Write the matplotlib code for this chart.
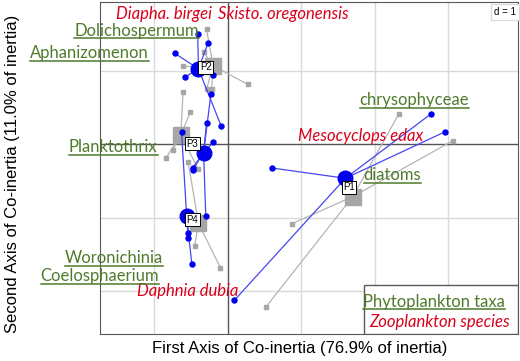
import matplotlib
matplotlib.use("Agg")
import matplotlib.pyplot as plt
from matplotlib.lines import Line2D
from matplotlib.patches import Rectangle

# Groupes (lacs / périodes)
groups = ["P1", "P2", "P3", "P4"]

# Centres de classe - tableau phyto (bleu) et zoo (gris)
blue_cx = [1.60, -0.40, -0.33, -0.56]
blue_cy = [-0.46, 1.03, -0.11, -0.98]
gray_cx = [1.70, -0.20, -0.64, -0.40]
gray_cy = [-0.71, 1.07, 0.13, -1.07]

# Points échantillons (bleu)
blue_x = [
    [0.60, 2.77, 2.95, 0.09],
    [-0.41, -0.27, -0.72, -0.58, -0.20, -0.09],
    [-0.23, -0.29, -0.20, -0.48, -0.48, -0.30],
    [-0.63, -0.49, -0.54, -0.54],
]
blue_y = [
    [-0.32, 0.42, 0.17, -2.12],
    [1.51, 1.38, 1.24, 0.92, 0.95, 0.25],
    [0.69, 0.29, 0.03, -0.32, -0.35, -0.97],
    [0.17, -1.63, -1.20, -1.27],
]

# Points échantillons (gris)
gray_x = [
    [2.33, 3.06, 0.87, 0.52],
    [-0.29, -0.33, -0.61, 0.27, -0.29, -0.22],
    [-0.61, -0.51, -0.75, -0.84, -0.40],
    [-0.54, -0.45, -0.10],
]
gray_y = [
    [0.42, 0.05, -1.08, -2.21],
    [1.57, 1.26, 1.07, 0.82, 0.75, 0.75],
    [0.71, 0.44, -0.08, -0.18, -0.34],
    [-0.24, -1.38, -1.68],
]

# Etiquettes des espèces
phyto_names = ["Dolichospermum", "Aphanizomenon", "Planktothrix", "Woronichinia",
               "Coelosphaerium", "chrysophyceae", "diatoms"]
phyto_x = [-1.24, -1.88, -1.56, -1.55, -1.74, 2.54, 2.24]
phyto_y = [1.55, 1.24, -0.04, -1.55, -1.79, 0.60, -0.42]

zoo_names = ["Diapha. birgei", "Skisto. oregonensis", "Mesocyclops edax", "Daphnia dubia"]
zoo_x = [-0.87, 0.75, 1.81, -0.54]
zoo_y = [1.77, 1.77, 0.11, -2.00]

GREEN = "#4f7b2c"
RED = "#d9001b"
BLUE = "#0000ee"
LBLUE = "#4646f0"
GRAY = "#a6a6a6"

fig = plt.figure(figsize=(5.2, 3.61), dpi=100)
ax = fig.add_axes([100 / 520, 27 / 361, 418 / 520, 332 / 361])
ax.set_xlim(-1.74, 3.95)
ax.set_ylim(-2.58, 1.94)
ax.set_xticks([-1, 1, 2, 3])
ax.set_yticks([-2, -1, 1])
ax.grid(True, color="#d9d9d9", lw=1)
ax.tick_params(length=0, labelbottom=False, labelleft=False)
ax.axhline(0, color="#555555", lw=1)
ax.axvline(0, color="#555555", lw=1)
for s in ax.spines.values():
    s.set_color("#595959")
ax.set_axisbelow(True)

# gris (zoo)
for i in range(len(groups)):
    for x, y in zip(gray_x[i], gray_y[i]):
        ax.plot([gray_cx[i], x], [gray_cy[i], y], color="#b5b5b5", lw=0.9, zorder=2)
    ax.plot(gray_x[i], gray_y[i], "s", color=GRAY, ms=3, zorder=3)
    ax.plot(gray_cx[i], gray_cy[i], "s", color=GRAY, ms=11, zorder=3)

# bleu (phyto)
for i in range(len(groups)):
    for x, y in zip(blue_x[i], blue_y[i]):
        ax.plot([blue_cx[i], x], [blue_cy[i], y], color=LBLUE, lw=0.9, zorder=4)
    ax.plot(blue_x[i], blue_y[i], "o", color=BLUE, ms=3.6, zorder=5)
    ax.plot(blue_cx[i], blue_cy[i], "o", color=BLUE, ms=10.5, zorder=5)

# étiquettes P1..P4
for i, g in enumerate(groups):
    lx = (blue_cx[i] + gray_cx[i]) / 2
    ly = (blue_cy[i] + gray_cy[i]) / 2
    ax.text(lx, ly, g, fontsize=7, family="Liberation Sans", ha="center", va="center",
            zorder=6, bbox=dict(boxstyle="square,pad=0.15", fc="white", ec="black", lw=0.7))

phyto_texts = []
for name, x, y in zip(phyto_names, phyto_x, phyto_y):
    t = ax.text(x, y, name, color=GREEN, fontsize=12, family="Lato",
                ha="center", va="center", clip_on=False, zorder=7)
    phyto_texts.append(t)
for name, x, y in zip(zoo_names, zoo_x, zoo_y):
    ax.text(x, y, name, color=RED, fontsize=12, family="Lato", style="italic",
            ha="center", va="center", clip_on=False, zorder=7)

ax.text(0.995, 0.985, "d = 1", transform=ax.transAxes, fontsize=7, family="Liberation Sans",
        ha="right", va="top", zorder=7,
        bbox=dict(boxstyle="square,pad=0.3", fc="white", ec="#d9d9d9", lw=0.8))

# cadre légende
ax.add_patch(Rectangle((0.632, 0.0), 0.368, 0.148, transform=ax.transAxes,
                       fc="white", ec="#595959", lw=1, zorder=8))
leg = ax.text(0.8, 0.097, "Phytoplankton taxa", transform=ax.transAxes, color=GREEN,
              fontsize=12, family="Lato", ha="center", va="center", zorder=9)
phyto_texts.append(leg)
ax.text(0.812, 0.037, "Zooplankton species", transform=ax.transAxes, color=RED,
        fontsize=12, family="Lato", style="italic", ha="center", va="center", zorder=9)

fig.text(300 / 520, 1 - 348 / 361, "First Axis of Co-inertia (76.9% of inertia)",
         fontsize=12, family="Liberation Sans", ha="center", va="center")
fig.text(13 / 520, 1 - 174 / 361, "Second Axis of Co-inertia (11.0% of inertia)",
         fontsize=12, family="Liberation Sans", ha="center", va="center", rotation=90)

# soulignement des taxons phyto
fig.canvas.draw()
r = fig.canvas.get_renderer()
for t in phyto_texts:
    bb = t.get_window_extent(r)
    yy = bb.y0 + 0.3
    fig.add_artist(Line2D([bb.x0 / 520, bb.x1 / 520], [yy / 361, yy / 361],
                          color=GREEN, lw=1.1, zorder=10))

fig.savefig("out.png", dpi=100)
